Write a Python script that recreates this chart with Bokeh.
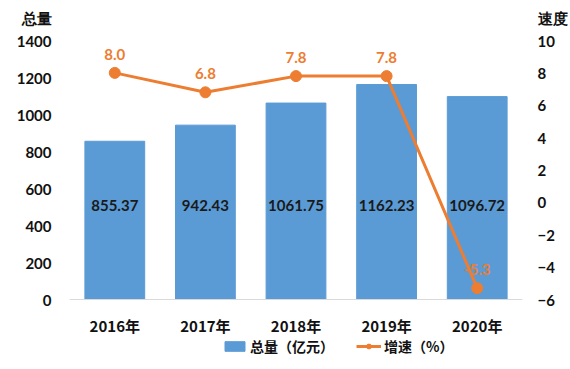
from bokeh.plotting import figure
from bokeh.models import (ColumnDataSource, Range1d, LinearAxis, Legend,
                          LegendItem, FixedTicker, LabelSet, Span)
from bokeh.embed import file_html
from bokeh.resources import INLINE
from bokeh.core.properties import value

years = ["2016年", "2017年", "2018年", "2019年", "2020年"]
totals = [855.37, 942.43, 1061.75, 1162.23, 1096.72]
growth = [8.0, 6.8, 7.8, 7.8, -5.3]
total_labels = ["855.37", "942.43", "1061.75", "1162.23", "1096.72"]
growth_labels = ["8.0", "6.8", "7.8", "7.8", "-5.3"]
left_ticks = [0, 200, 400, 600, 800, 1000, 1200, 1400]
right_ticks = [-6, -4, -2, 0, 2, 4, 6, 8, 10]
left_title = "总量"
right_title = "速度"

BLUE = "#5B9BD5"
ORANGE = "#ED7D31"
NUM_FONT = "Lato"
CJK_FONT = "Noto Sans CJK SC"

# layout: pixel rows of the top tick, the zero line, and the canvas height
W, H = 570, 369
PX_TOP, PX_ZERO, PX_TITLE = 40, 299, 18
k1 = (PX_ZERO - PX_TOP) / (left_ticks[-1] - left_ticks[0])
k2 = (PX_ZERO - PX_TOP) / (right_ticks[-1] - right_ticks[0])
left_range = Range1d(left_ticks[0] - (H - PX_ZERO) / k1, left_ticks[-1] + PX_TOP / k1)
right_range = Range1d(right_ticks[0] - (H - PX_ZERO) / k2, right_ticks[-1] + PX_TOP / k2)
left_title_tick = float(round(left_ticks[-1] + (PX_TOP - PX_TITLE) / k1))
right_title_tick = round(right_ticks[-1] + (PX_TOP - PX_TITLE) / k2, 1)

src = ColumnDataSource(dict(x=years, total=totals, growth=growth,
                            tl=total_labels, gl=growth_labels,
                            ly=[510] * len(years), base=[0] * len(years)))

p = figure(x_range=years, y_range=left_range, width=W, height=H,
           output_backend="svg", toolbar_location=None,
           min_border_left=69, min_border_right=46, min_border_top=0,
           min_border_bottom=0)
p.extra_y_ranges = {"speed": right_range}
p.outline_line_color = None
p.xgrid.grid_line_color = None
p.ygrid.grid_line_color = None
p.background_fill_color = "white"
p.border_fill_color = "white"
p.xaxis.visible = False

p.add_layout(Span(location=0, dimension="width", line_color="#D9D9D9",
                  line_width=1))

bars = p.vbar(x="x", top="total", width=0.66, source=src, color=BLUE)
line = p.line(x="x", y="growth", source=src, y_range_name="speed",
              line_color=ORANGE, line_width=3)
pts = p.scatter(x="x", y="growth", source=src, y_range_name="speed",
                size=11, fill_color=ORANGE, line_color=ORANGE)

p.add_layout(LabelSet(x="x", y="ly", text="tl", source=src,
                      text_align="center", text_baseline="middle",
                      text_font=value(NUM_FONT), text_font_style="bold",
                      text_font_size="15px", text_color="#1a1a1a"))
p.add_layout(LabelSet(x="x", y="growth", text="gl", source=src,
                      y_range_name="speed", y_offset=13,
                      text_align="center", text_baseline="bottom",
                      text_font=value(NUM_FONT), text_font_style="bold",
                      text_font_size="15px", text_color=ORANGE))
# category labels under the zero line
p.add_layout(LabelSet(x="x", y="base", text="x", source=src, y_offset=-26,
                      text_align="center", text_baseline="middle",
                      text_font=value(CJK_FONT), text_font_style="bold",
                      text_font_size="15px", text_color="#111111"))

# Left axis (with its title as the top label)
ya = p.yaxis[0]
ya.ticker = FixedTicker(ticks=left_ticks + [left_title_tick])
ya.major_label_overrides = {left_title_tick: left_title}
ya.axis_line_color = None
ya.major_tick_line_color = None
ya.minor_tick_line_color = None
ya.major_label_standoff = 12
ya.major_label_text_font = NUM_FONT
ya.major_label_text_font_style = "bold"
ya.major_label_text_font_size = "15px"
ya.major_label_text_color = "#111111"

# Right axis
ra = LinearAxis(y_range_name="speed",
                ticker=FixedTicker(ticks=right_ticks + [right_title_tick]))
ra.major_label_overrides = {right_title_tick: right_title}
ra.axis_line_color = None
ra.major_tick_line_color = None
ra.minor_tick_line_color = None
ra.major_label_standoff = 9
ra.major_label_text_font = NUM_FONT
ra.major_label_text_font_style = "bold"
ra.major_label_text_font_size = "15px"
ra.major_label_text_color = "#111111"
p.add_layout(ra, "right")

legend = Legend(items=[LegendItem(label="总量（亿元）", renderers=[bars]),
                       LegendItem(label="增速（%）", renderers=[line, pts])],
                orientation="horizontal", location=(153, 13),
                label_text_font=CJK_FONT, label_text_font_style="bold",
                label_text_font_size="14px", label_text_color="#111111",
                glyph_width=25, glyph_height=12, spacing=22,
                border_line_color=None, background_fill_alpha=0,
                padding=0, margin=0, label_standoff=3)
p.add_layout(legend, "center")

open("out.html", "w").write(file_html(p, INLINE))
